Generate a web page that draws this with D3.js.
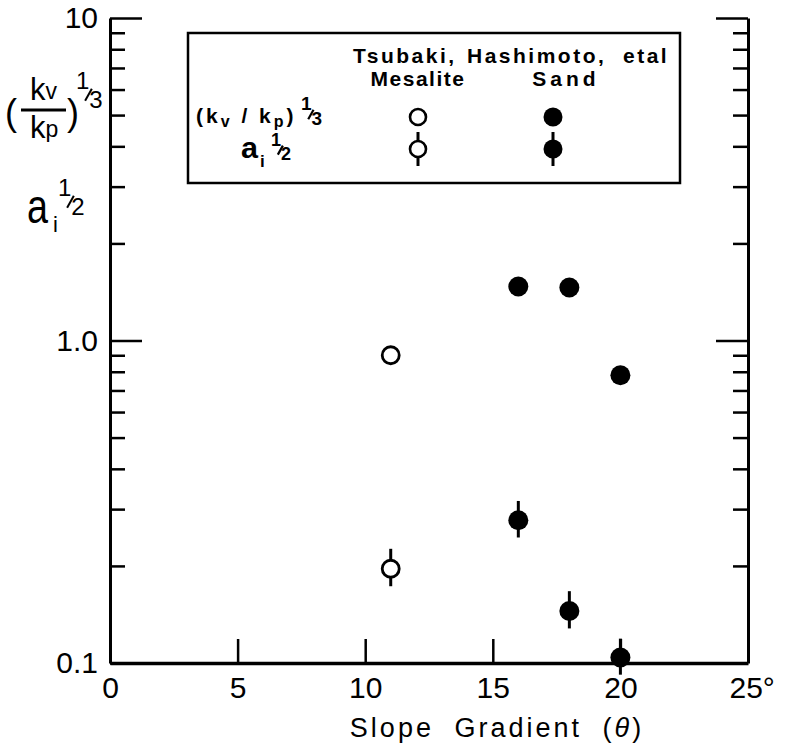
<!DOCTYPE html>
<html>
<head>
<meta charset="utf-8">
<script src="https://cdnjs.cloudflare.com/ajax/libs/d3/7.8.5/d3.min.js"></script>
<style>
  body { margin: 0; background: #fff; }
  svg { font-family: "Liberation Sans", Arial, sans-serif; }
  .axis path, .axis line { stroke: #000; }
  .axis text { font-size: 30px; fill: #000; }
</style>
</head>
<body>
<svg id="chart"></svg>
<script>
// x: slope gradient (degrees), y: log scale
var xTicks = [0, 5, 10, 15, 20, 25];
var yMajor = [0.1, 1, 10];
var yLabels = ["0.1", "1.0", "10"];
var yMinor = [0.2, 0.3, 0.4, 0.5, 0.6, 0.7, 0.8, 0.9, 2, 3, 4, 5, 6, 7, 8, 9];

// Tsubaki, Hashimoto, etal - Mesalite
var mesaliteSlope = [11];
var mesaliteKv = [0.90];
var mesaliteAi = [0.196];
var mesaliteAiLo = [0.173];
var mesaliteAiHi = [0.226];

// Tsubaki, Hashimoto, etal - Sand
var sandSlope = [16, 18, 20];
var sandKv = [1.47, 1.46, 0.78];
var sandAi = [0.277, 0.145, 0.104];
var sandAiLo = [0.245, 0.128, 0.092];
var sandAiHi = [0.318, 0.167, 0.119];

(function() {
    var margin = { top: 18, right: 37, bottom: 83, left: 110 },
        width = 785 - margin.left - margin.right,
        height = 746 - margin.top - margin.bottom;

    var root = d3.select("#chart")
        .attr("width", 785)
        .attr("height", 746);
    var svg = root.append("g")
        .attr("transform", `translate(${margin.left}, ${margin.top})`);

    var xScale = d3.scaleLinear().domain([0, 25]).range([0, width]);
    var yScale = d3.scaleLog().domain([0.1, 10]).range([height, 0]);

    // left axis: minor ticks then major ticks with labels
    svg.append("g").attr("class", "axis")
        .call(d3.axisLeft(yScale).tickValues(yMinor).tickSize(-15).tickSizeOuter(0).tickFormat(""))
        .call(g => g.selectAll("line").attr("stroke-width", 2.5))
        .call(g => g.select(".domain").attr("stroke-width", 3));
    svg.append("g").attr("class", "axis")
        .call(d3.axisLeft(yScale).tickValues(yMajor).tickSize(-32).tickSizeOuter(0).tickPadding(12)
            .tickFormat((d, i) => yLabels[i]))
        .call(g => g.selectAll("line").attr("stroke-width", 2.5))
        .call(g => g.select(".domain").remove());

    // right axis, ticks pointing inwards, no labels
    var right = svg.append("g").attr("class", "axis").attr("transform", `translate(${width}, 0)`);
    right.call(d3.axisRight(yScale).tickValues(yMinor).tickSize(-15).tickSizeOuter(0).tickFormat(""))
        .call(g => g.selectAll("line").attr("stroke-width", 2.5))
        .call(g => g.select(".domain").attr("stroke-width", 3));
    right.append("g")
        .call(d3.axisRight(yScale).tickValues(yMajor).tickSize(-32).tickSizeOuter(0).tickFormat(""))
        .call(g => g.selectAll("line").attr("stroke-width", 2.5))
        .call(g => g.select(".domain").remove());

    // bottom axis
    svg.append("g").attr("class", "axis")
        .attr("transform", `translate(0, ${height})`)
        .call(d3.axisBottom(xScale).tickValues(xTicks).tickSize(-24).tickSizeOuter(0).tickPadding(14)
            .tickFormat(d => d === 25 ? "25°" : d))
        .call(g => g.selectAll("line").attr("stroke-width", 2.5))
        .call(g => g.select(".domain").attr("stroke-width", 3.5))
        .call(g => g.selectAll(".tick text").filter(d => d === 25)
            .attr("text-anchor", "start").attr("x", -19));

    // x axis title
    svg.append("text")
        .attr("x", 387)
        .attr("y", height + 74)
        .attr("text-anchor", "middle")
        .style("font-size", "27px")
        .style("letter-spacing", "3px")
        .style("word-spacing", "10px")
        .html('Slope Gradient (<tspan font-style="italic">θ</tspan>)');

    // small "1/3" style fraction: numerator up-left, denominator down-right
    function frac(g, x, y, num, den, fs, sw) {
        g.append("text").attr("x", x).attr("y", y - fs * 0.78).style("font-size", fs + "px").text(num);
        g.append("line")
            .attr("x1", x + fs * 0.38).attr("y1", y - fs * 0.3)
            .attr("x2", x + fs * 0.66).attr("y2", y - fs * 0.8)
            .attr("stroke", "#000").attr("stroke-width", sw);
        g.append("text").attr("x", x + fs * 0.55).attr("y", y).style("font-size", fs + "px").text(den);
    }

    // y axis label: (kv/kp)^1/3 and ai^1/2
    var ylab = root.append("g").style("fill", "#000");
    ylab.append("text").attr("x", 5).attr("y", 125).style("font-size", "36px").text("(");
    ylab.append("text").attr("x", 67).attr("y", 125).style("font-size", "36px").text(")");
    ylab.append("text").attr("x", 30).attr("y", 100).style("font-size", "31px")
        .html('k<tspan font-size="23px" dy="-1">v</tspan>');
    ylab.append("line").attr("x1", 21).attr("x2", 66).attr("y1", 110).attr("y2", 110)
        .attr("stroke", "#000").attr("stroke-width", 3);
    ylab.append("text").attr("x", 30).attr("y", 138).style("font-size", "31px")
        .html('k<tspan font-size="23px" dy="-1">p</tspan>');
    frac(ylab, 76, 108, "1", "3", 24, 2);
    ylab.append("text").attr("x", 27).attr("y", 223).style("font-size", "48px")
        .attr("textLength", 21).attr("lengthAdjust", "spacingAndGlyphs").text("a");
    ylab.append("text").attr("x", 53).attr("y", 232).style("font-size", "22px").text("i");
    frac(ylab, 58, 215, "1", "2", 24, 2);

    // draw series
    function errorBars(xs, lo, hi) {
        svg.append("g").selectAll("line")
            .data(xs)
            .enter()
            .append("line")
            .attr("x1", d => xScale(d))
            .attr("x2", d => xScale(d))
            .attr("y1", (d, i) => yScale(lo[i]))
            .attr("y2", (d, i) => yScale(hi[i]))
            .attr("stroke", "#000")
            .attr("stroke-width", 3);
    }
    function dots(xs, ys, filled) {
        svg.append("g").selectAll("circle")
            .data(xs)
            .enter()
            .append("circle")
            .attr("cx", d => xScale(d))
            .attr("cy", (d, i) => yScale(ys[i]))
            .attr("r", filled ? 10 : 8.5)
            .attr("fill", filled ? "#000" : "#fff")
            .attr("stroke", "#000")
            .attr("stroke-width", filled ? 0 : 2.8);
    }
    errorBars(mesaliteSlope, mesaliteAiLo, mesaliteAiHi);
    errorBars(sandSlope, sandAiLo, sandAiHi);
    dots(mesaliteSlope, mesaliteKv, false);
    dots(mesaliteSlope, mesaliteAi, false);
    dots(sandSlope, sandKv, true);
    dots(sandSlope, sandAi, true);

    // legend
    var leg = root.append("g").style("font-weight", "bold").style("font-size", "21px").style("letter-spacing", "2.5px");
    leg.append("rect").attr("x", 188).attr("y", 33).attr("width", 492).attr("height", 150)
        .attr("fill", "none").attr("stroke", "#000").attr("stroke-width", 2.5);
    leg.append("text").attr("x", 353).attr("y", 63).text("Tsubaki,");
    leg.append("text").attr("x", 467).attr("y", 63).text("Hashimoto,");
    leg.append("text").attr("x", 623).attr("y", 63).text("etal");
    leg.append("text").attr("x", 418).attr("y", 86).attr("text-anchor", "middle")
        .style("letter-spacing", "1.5px").text("Mesalite");
    leg.append("text").attr("x", 566).attr("y", 86).attr("text-anchor", "middle")
        .style("letter-spacing", "4px").text("Sand");
    leg.append("text").attr("x", 196).attr("y", 123).style("letter-spacing", "3px")
        .html('(k<tspan font-size="16px" dy="4">v</tspan><tspan dy="-4"> / k</tspan><tspan font-size="16px" dy="4">p</tspan><tspan dy="-4">)</tspan>');
    frac(leg, 301, 125, "1", "3", 19, 2.2);
    leg.append("text").attr("x", 241).attr("y", 158)
        .attr("textLength", 17).attr("lengthAdjust", "spacingAndGlyphs")
        .style("font-size", "30px").style("letter-spacing", "0px").text("a");
    leg.append("text").attr("x", 260).attr("y", 167).style("font-size", "17px").text("i");
    frac(leg, 271, 160, "1", "2", 18, 2.2);

    var legX = [418, 553];
    var legFill = ["#fff", "#000"];
    leg.selectAll(".lbar").data(legX).enter().append("line")
        .attr("x1", d => d).attr("x2", d => d).attr("y1", 132).attr("y2", 166)
        .attr("stroke", "#000").attr("stroke-width", 3);
    [117, 149].forEach(cy => {
        leg.selectAll(null).data(legX).enter().append("circle")
            .attr("cx", d => d).attr("cy", cy)
            .attr("r", (d, i) => i ? 9.5 : 8)
            .attr("fill", (d, i) => legFill[i])
            .attr("stroke", "#000")
            .attr("stroke-width", (d, i) => i ? 0 : 2.6);
    });
})();
</script>
</body>
</html>
